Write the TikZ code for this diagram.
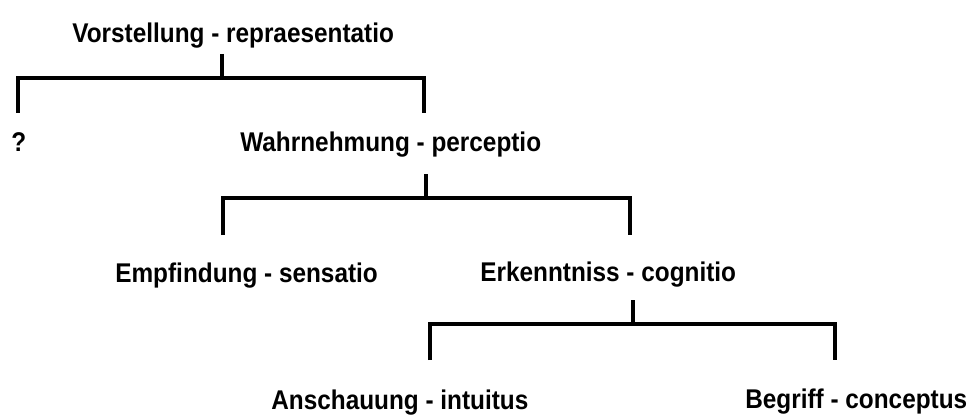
\documentclass[tikz,border=0pt]{standalone}
\usepackage{fontspec}
\setmainfont{Liberation Sans}[FakeStretch=0.9]

\tikzset{
	term/.style={inner sep=0pt, anchor=base west, font=\fontsize{15.4}{18}\selectfont\bfseries},
	bracket/.style={line width=1.8pt}
}

\begin{document}
\begin{tikzpicture}[x=0.02cm, y=-0.02cm]
		% Frame:
		\useasboundingbox (0,0) rectangle (972,415);
		% Terms:
		\node[term] (vorst) at (72, 43){Vorstellung - repraesentatio};
		\node[term] (frage) at (11, 152){?};
		\node[term] (wahr) at (240, 152){Wahrnehmung - perceptio};
		\node[term] (empf) at (115, 282){Empfindung - sensatio};
		\node[term] (erk) at (480, 281){Erkenntniss - cognitio};
		\node[term] (ansch) at (271, 409){Anschauung - intuitus};
		\node[term] (begr) at (745, 408){Begriff - conceptus};
		% Brackets:
		\coordinate (vorst-out) at (222, 54);
		\coordinate (vorst-fork) at (222, 78);
		\coordinate (frage-in) at (18, 113);
		\coordinate (wahr-in) at (424, 113);
		\draw[bracket] (vorst-out) -- (vorst-fork);
		\draw[bracket] (frage-in) |- (vorst-fork) -| (wahr-in);
		\coordinate (wahr-out) at (426, 174);
		\coordinate (wahr-fork) at (426, 198);
		\coordinate (empf-in) at (223, 235);
		\coordinate (erk-in) at (630, 235);
		\draw[bracket] (wahr-out) -- (wahr-fork);
		\draw[bracket] (empf-in) |- (wahr-fork) -| (erk-in);
		\coordinate (erk-out) at (633, 300);
		\coordinate (erk-fork) at (633, 324);
		\coordinate (ansch-in) at (430, 360);
		\coordinate (begr-in) at (835, 360);
		\draw[bracket] (erk-out) -- (erk-fork);
		\draw[bracket] (ansch-in) |- (erk-fork) -| (begr-in);
\end{tikzpicture}
\end{document}
